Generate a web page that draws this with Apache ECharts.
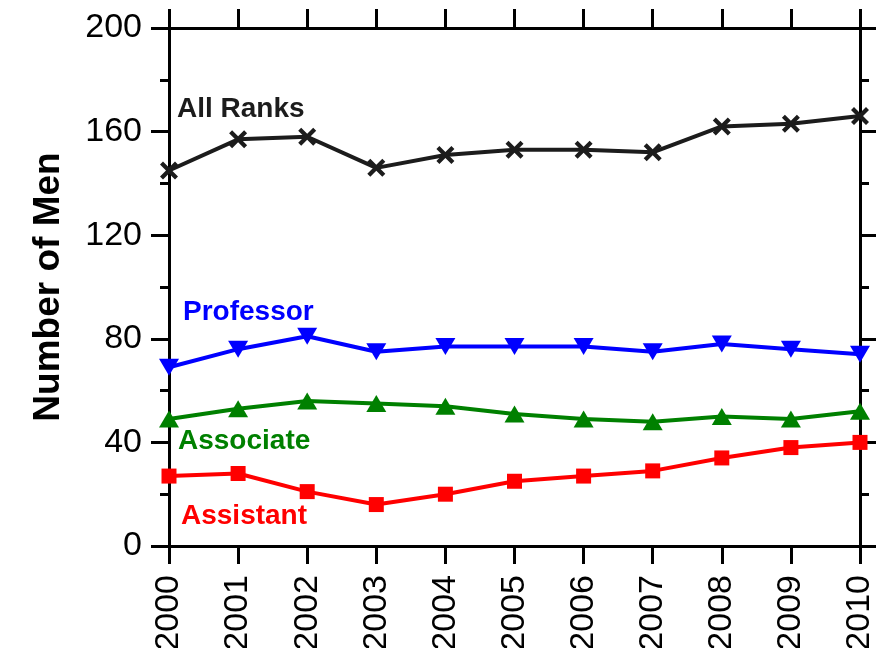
<!DOCTYPE html>
<html>
<head>
<meta charset="utf-8">
<script src="https://cdn.jsdelivr.net/npm/echarts@6/dist/echarts.min.js"></script>
<style>
html,body{margin:0;padding:0;background:#fff;}
#chart{width:876px;height:648px;}
</style>
</head>
<body>
<div id="chart"></div>
<script>
var years = ['2000','2001','2002','2003','2004','2005','2006','2007','2008','2009','2010'];
var allRanks  = [145, 157, 158, 146, 151, 153, 153, 152, 162, 163, 166];
var professor = [69, 76, 81, 75, 77, 77, 77, 75, 78, 76, 74];
var associate = [49, 53, 56, 55, 54, 51, 49, 48, 50, 49, 52];
var assistant = [27, 28, 21, 16, 20, 25, 27, 29, 34, 38, 40];
var yTicks = [0, 40, 80, 120, 160, 200];

var FONT = '"Liberation Sans", Arial, sans-serif';
var crossPath = 'path://M0,3L3,0L9,6L15,0L18,3L12,9L18,15L15,18L9,12L3,18L0,15L6,9Z';

var chart = echarts.init(document.getElementById('chart'), null, {renderer: 'canvas'});

var axisLine = {show: true, onZero: false, lineStyle: {color: '#000', width: 3}};
function majorTick(len) { return {show: true, inside: false, length: len, lineStyle: {color: '#000', width: 3}}; }
var minorTick = {show: true, splitNumber: 2, length: 9, lineStyle: {color: '#000', width: 3}};

function lineSeries(name, data, color, symbol, size, rotate) {
  return {
    name: name, type: 'line', data: data,
    symbol: symbol, symbolSize: size, symbolRotate: rotate || 0,
    lineStyle: {color: color, width: 4},
    itemStyle: {color: color, borderWidth: 0},
    emphasis: {disabled: true},
    animation: false, z: 3
  };
}

var option = {
  backgroundColor: '#fff',
  animation: false,
  grid: {left: 169, right: 16, top: 28, bottom: 102, containLabel: false, outerBoundsMode: 'none'},
  xAxis: [
    {
      type: 'category', data: years, boundaryGap: false, position: 'bottom',
      axisLine: axisLine, axisTick: Object.assign(majorTick(18), {interval: 0}),
      axisLabel: {rotate: 90, margin: 29, fontSize: 34, color: '#000', fontFamily: FONT, interval: 0},
      splitLine: {show: false}
    },
    {
      type: 'category', data: years, boundaryGap: false, position: 'top',
      axisLine: axisLine, axisTick: Object.assign(majorTick(19), {interval: 0}),
      axisLabel: {show: false}, splitLine: {show: false}
    }
  ],
  yAxis: [
    {
      type: 'value', min: yTicks[0], max: yTicks[yTicks.length - 1], interval: 40, position: 'left',
      name: 'Number of Men', nameLocation: 'middle', nameGap: 102, nameRotate: 90,
      nameTextStyle: {fontSize: 37, fontWeight: 'bold', color: '#000', fontFamily: FONT},
      axisLine: axisLine, axisTick: majorTick(18), minorTick: minorTick,
      axisLabel: {margin: 27, fontSize: 34, color: '#000', fontFamily: FONT},
      splitLine: {show: false}, minorSplitLine: {show: false}
    },
    {
      type: 'value', min: yTicks[0], max: yTicks[yTicks.length - 1], interval: 40, position: 'right',
      axisLine: axisLine, axisTick: majorTick(18), minorTick: minorTick,
      axisLabel: {show: false}, splitLine: {show: false}, minorSplitLine: {show: false}
    }
  ],
  series: [
    lineSeries('All Ranks', allRanks, '#1c1c1c', crossPath, 18),
    lineSeries('Professor', professor, '#0000ff', 'triangle', [20, 17], 180),
    lineSeries('Associate', associate, '#008000', 'triangle', [20, 17], 0),
    lineSeries('Assistant', assistant, '#ff0000', 'rect', 15)
  ],
  graphic: [
    {type: 'text', left: 177, top: 95, style: {text: 'All Ranks', fill: '#1c1c1c', font: 'bold 28px ' + FONT}},
    {type: 'text', left: 183, top: 298, style: {text: 'Professor', fill: '#0000ff', font: 'bold 28px ' + FONT}},
    {type: 'text', left: 178, top: 427, style: {text: 'Associate', fill: '#008000', font: 'bold 28px ' + FONT}},
    {type: 'text', left: 181, top: 502, style: {text: 'Assistant', fill: '#ff0000', font: 'bold 28px ' + FONT}}
  ]
};
chart.setOption(option);
</script>
</body>
</html>
